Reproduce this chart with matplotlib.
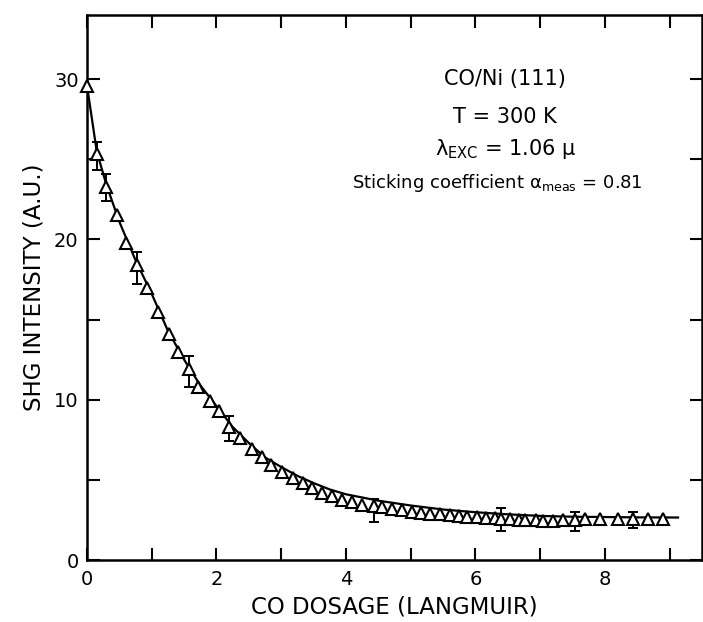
import numpy as np
import matplotlib
matplotlib.use('Agg')
import matplotlib.pyplot as plt
from matplotlib.ticker import MultipleLocator

# measured SHG intensity vs CO dosage (open triangles)
dose = [0.00, 0.15, 0.30, 0.46, 0.61, 0.77, 0.93, 1.10, 1.26, 1.40,
        1.58, 1.72, 1.90, 2.04, 2.20, 2.36, 2.55, 2.70, 2.84, 3.01,
        3.18, 3.33, 3.47, 3.63, 3.78, 3.94, 4.09, 4.25, 4.43, 4.56,
        4.71, 4.87, 5.02, 5.16, 5.30, 5.46, 5.60, 5.74, 5.87, 6.02,
        6.17, 6.31, 6.39, 6.54, 6.67, 6.77, 6.93, 7.05, 7.20, 7.36,
        7.54, 7.70, 7.93, 8.21, 8.44, 8.67, 8.89]
shg = [29.6, 25.3, 23.3, 21.5, 19.8, 18.4, 17.0, 15.5, 14.1, 13.0,
       11.9, 10.8, 9.9, 9.3, 8.3, 7.6, 6.9, 6.4, 5.95, 5.5,
       5.1, 4.8, 4.5, 4.2, 4.0, 3.75, 3.6, 3.45, 3.35, 3.3,
       3.2, 3.1, 3.0, 2.95, 2.9, 2.85, 2.8, 2.75, 2.7, 2.68,
       2.65, 2.6, 2.58, 2.55, 2.52, 2.5, 2.47, 2.45, 2.45, 2.47,
       2.5, 2.55, 2.55, 2.55, 2.55, 2.58, 2.58]

# error bars (low / high ends)
err_x = [0.15, 0.30, 0.77, 1.58, 2.20, 4.43, 6.39, 7.54, 8.44]
err_lo = [24.3, 22.4, 17.2, 10.8, 7.45, 2.4, 1.8, 1.8, 2.0]
err_hi = [26.1, 24.1, 19.2, 12.7, 9.0, 3.8, 3.25, 3.0, 3.0]

# fitted curve
fit_x = [0.0, 0.15, 0.3, 0.5, 0.75, 1.0, 1.25, 1.5, 1.75, 2.0,
         2.25, 2.5, 2.75, 3.0, 3.25, 3.5, 3.75, 4.0, 4.5, 5.0,
         5.5, 6.0, 6.5, 7.0, 7.5, 8.0, 8.5, 9.13]
fit_y = [29.6, 25.5, 23.4, 21.1, 18.7, 16.6, 14.3, 12.5, 10.9, 9.6,
         8.3, 7.3, 6.4, 5.8, 5.25, 4.8, 4.4, 4.1, 3.7, 3.4,
         3.15, 2.98, 2.85, 2.75, 2.7, 2.68, 2.66, 2.65]

fig = plt.figure(figsize=(7.03, 6.22), dpi=100)
ax = fig.add_axes([87/703, 62/622, 615/703, 545/622])

ax.plot(fit_x, fit_y, color='black', lw=1.6, zorder=2)
lo = np.array(err_lo)
hi = np.array(err_hi)
ax.errorbar(err_x, (lo + hi) / 2, yerr=(hi - lo) / 2, fmt='none',
            ecolor='black', elinewidth=1.4, capsize=3.6, capthick=1.4, zorder=3)
ax.plot(dose, shg, linestyle='none', marker='^', ms=8.5, mfc='white',
        mec='black', mew=1.5, zorder=4, clip_on=False)

ax.set_xlim(0, 9.5)
ax.set_ylim(0, 34)
ax.xaxis.set_major_locator(MultipleLocator(2))
ax.xaxis.set_minor_locator(MultipleLocator(1))
ax.yaxis.set_major_locator(MultipleLocator(10))
ax.yaxis.set_minor_locator(MultipleLocator(5))
ax.tick_params(which='both', direction='in', top=True, right=True,
               width=1.5, length=9, labelsize=14)
ax.tick_params(axis='x', which='both', pad=7)
ax.tick_params(axis='y', which='both', pad=6)
for s in ax.spines.values():
    s.set_linewidth(1.8)

ax.set_xlabel('CO DOSAGE (LANGMUIR)', fontsize=16.5, labelpad=5)
ax.set_ylabel('SHG INTENSITY (A.U.)', fontsize=16.5, labelpad=6)

ax.text(0.68, 0.883, 'CO/Ni (111)', transform=ax.transAxes, ha='center', va='center', fontsize=15)
ax.text(0.68, 0.813, 'T = 300 K', transform=ax.transAxes, ha='center', va='center', fontsize=15)
ax.text(0.68, 0.755, 'λ$_{\\rm EXC}$ = 1.06 μ', transform=ax.transAxes,
        ha='center', va='center', fontsize=15)
ax.text(0.667, 0.692, 'Sticking coefficient α$_{\\rm meas}$ = 0.81', transform=ax.transAxes,
        ha='center', va='center', fontsize=13)

fig.savefig('out.png', dpi=100)
